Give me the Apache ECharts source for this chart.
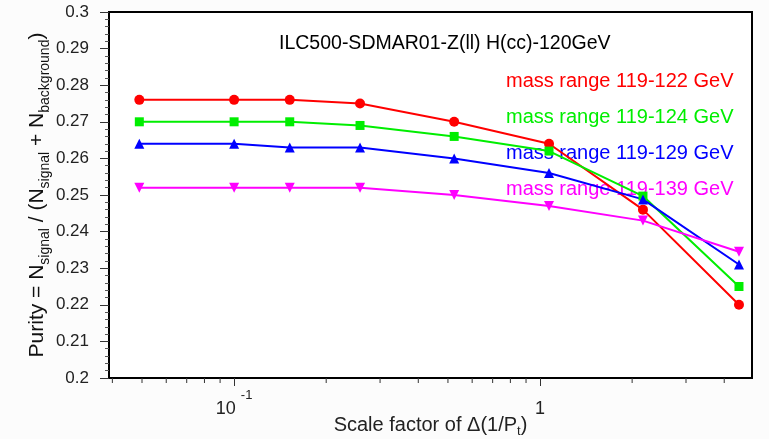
<!DOCTYPE html>
<html>
<head>
<meta charset="utf-8">
<script src="https://cdn.jsdelivr.net/npm/echarts@6/dist/echarts.min.js"></script>
<style>
html,body{margin:0;padding:0;background:#fcfcfc;}
#chart{width:769px;height:439px;}
</style>
</head>
<body>
<div id="chart"></div>
<script>
// ---- data ----
var xValues = [0.049, 0.1, 0.152, 0.258, 0.524, 1.07, 2.17, 4.47];
var seriesNames = ['mass range 119-122 GeV', 'mass range 119-124 GeV', 'mass range 119-129 GeV', 'mass range 119-139 GeV'];
var purity122 = [0.276, 0.276, 0.276, 0.275, 0.270, 0.264, 0.246, 0.220];
var purity124 = [0.270, 0.270, 0.270, 0.269, 0.266, 0.262, 0.2497, 0.225];
var purity129 = [0.264, 0.264, 0.263, 0.263, 0.260, 0.256, 0.2488, 0.231];
var purity139 = [0.252, 0.252, 0.252, 0.252, 0.250, 0.247, 0.243, 0.2345];
var xMinorTicks = [0.04, 0.05, 0.06, 0.07, 0.08, 0.09, 0.2, 0.3, 0.4, 0.5, 0.6, 0.7, 0.8, 0.9, 2, 3, 4];
var titleText = 'ILC500-SDMAR01-Z(ll) H(cc)-120GeV';

var FONT = "'Liberation Sans', Arial, Helvetica, sans-serif";
var colors = ['#ff0000', '#00ee00', '#0000ff', '#ff00ff'];
var symbols = ['circle', 'rect', 'triangle', 'triangle'];
var symbolSizes = [10, 9, 10, 10];
var symbolRot = [0, 0, 0, 180];
var allValues = [purity122, purity124, purity129, purity139];

function pairs(ys) { return xValues.map(function (x, i) { return [x, ys[i]]; }); }

var series = allValues.map(function (ys, k) {
  return {
    name: seriesNames[k],
    type: 'line',
    data: pairs(ys),
    symbol: symbols[k],
    symbolSize: symbolSizes[k],
    symbolRotate: symbolRot[k],
    showAllSymbol: true,
    lineStyle: { color: colors[k], width: 2 },
    itemStyle: { color: colors[k] },
    z: 3,
    animation: false
  };
});

// minor ticks for the log x axis, placed through the axis scale
series.push({
  type: 'custom',
  name: 'minorTicks',
  silent: true,
  clip: false,
  z: 5,
  data: xMinorTicks.map(function (v) { return [v, 0.2]; }),
  renderItem: function (params, api) {
    var p = api.coord([api.value(0), api.value(1)]);
    return {
      type: 'line',
      shape: { x1: p[0], y1: p[1], x2: p[0], y2: p[1] + 5 },
      style: { stroke: '#333', lineWidth: 1 }
    };
  },
  animation: false
});

var chart = echarts.init(document.getElementById('chart'), null, { renderer: 'canvas' });
chart.setOption({
  backgroundColor: '#fcfcfc',
  animation: false,
  title: {
    text: titleText,
    left: 274,
    top: 28,
    textStyle: { fontFamily: FONT, fontSize: 19.5, fontWeight: 'normal', color: '#000', lineHeight: 22 }
  },
  legend: {
    orient: 'vertical',
    left: 496,
    top: 66,
    itemWidth: 0,
    itemHeight: 20,
    itemGap: 16.3,
    icon: 'none',
    z: 1,
    selectedMode: false,
    textStyle: { fontFamily: FONT, fontSize: 20, lineHeight: 20 },
    data: seriesNames.map(function (n, k) {
      return { name: n, icon: 'none', textStyle: { color: colors[k] } };
    })
  },
  grid: {
    left: 109, right: 17, top: 12, bottom: 61,
    outerBoundsMode: 'none',
    containLabel: false,
    show: true, backgroundColor: '#ffffff', borderColor: '#000', borderWidth: 2
  },
  xAxis: {
    type: 'log',
    logBase: 10,
    min: 0.039,
    max: 4.93,
    name: '{a|Scale factor of Δ(1/P}{s|t}{a|)}',
    nameLocation: 'middle',
    nameMoveOverlap: false,
    nameGap: 34,
    nameTextStyle: {
      rich: {
        a: { fontFamily: FONT, fontSize: 20, color: '#222', lineHeight: 26, verticalAlign: 'middle' },
        s: { fontFamily: FONT, fontSize: 13, color: '#222', lineHeight: 14, verticalAlign: 'bottom' }
      }
    },
    axisLine: { onZero: false, lineStyle: { color: '#000', width: 2 } },
    axisTick: { show: true, length: 8, lineStyle: { color: '#333' } },
    splitLine: { show: false },
    minorTick: { show: false },
    axisLabel: {
      margin: 11,
      showMinLabel: false,
      showMaxLabel: false,
      formatter: function (v) {
        var e = Math.log10(v);
        if (Math.abs(e + 1) < 1e-6) return '{b|10}{p|-1}';
        if (Math.abs(e) < 1e-6) return '{b|1}';
        return '';
      },
      rich: {
        b: { fontFamily: FONT, fontSize: 18, color: '#222', lineHeight: 40, verticalAlign: 'middle' },
        p: { fontFamily: FONT, fontSize: 13, color: '#222', lineHeight: 14, verticalAlign: 'top', padding: [0, 0, 0, 5] }
      }
    }
  },
  yAxis: {
    type: 'value',
    min: 0.2,
    max: 0.3,
    interval: 0.01,
    name: '{a|Purity = N}{s|signal}{a| / (N}{s|signal}{a| + N}{s|background}{a|)}',
    nameLocation: 'middle',
    nameRotate: 90,
    nameMoveOverlap: false,
    nameGap: 57,
    nameTextStyle: {
      rich: {
        a: { fontFamily: FONT, fontSize: 21, color: '#111', lineHeight: 30, verticalAlign: 'middle' },
        s: { fontFamily: FONT, fontSize: 14, color: '#111', lineHeight: 14, verticalAlign: 'bottom' }
      }
    },
    axisLine: { show: true, lineStyle: { color: '#000', width: 2 } },
    axisTick: { show: true, length: 9, lineStyle: { color: '#333' } },
    minorTick: { show: true, splitNumber: 5, length: 4, lineStyle: { color: '#555' } },
    splitLine: { show: false },
    minorSplitLine: { show: false },
    axisLabel: {
      margin: 20,
      fontFamily: FONT,
      fontSize: 17,
      color: '#222'
    }
  },
  series: series
});
</script>
</body>
</html>
